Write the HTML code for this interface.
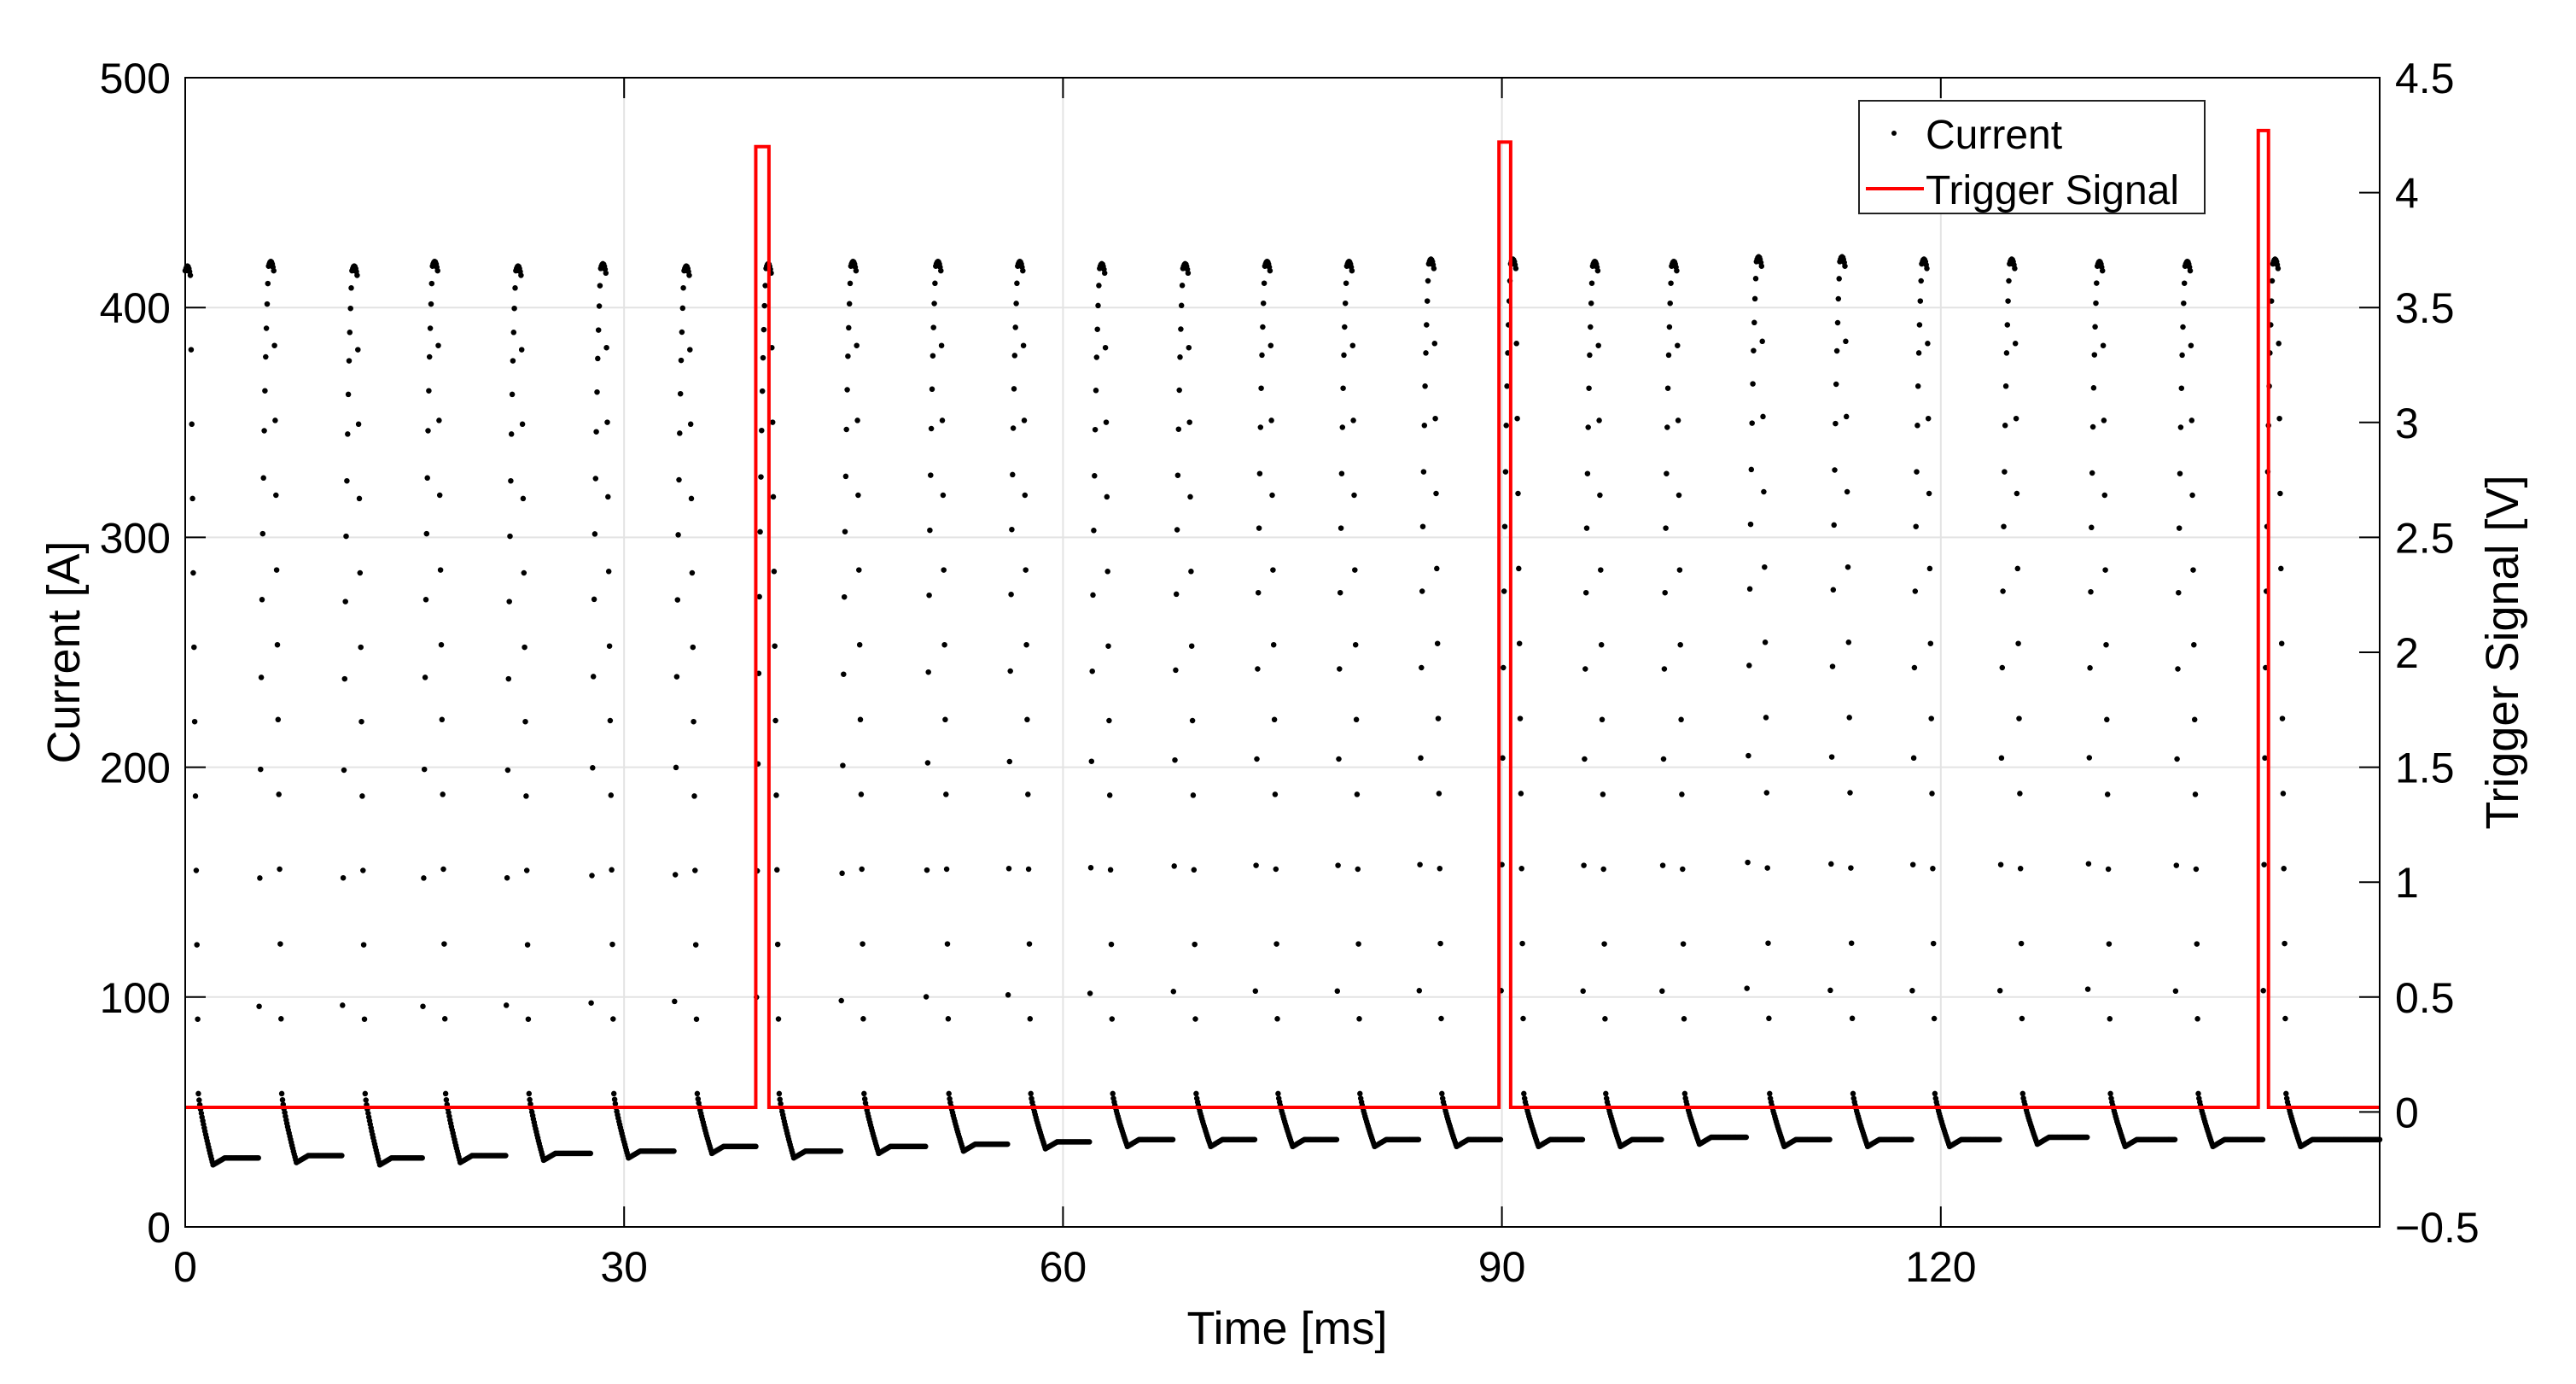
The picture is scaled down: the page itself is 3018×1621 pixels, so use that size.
<!DOCTYPE html>
<html><head><meta charset="utf-8"><style>
html,body{margin:0;padding:0;background:#fff;}
svg{display:block;font-family:"Liberation Sans",Arial,sans-serif;}
</style></head><body>
<svg id="chart" width="3018" height="1621" viewBox="0 0 3018 1621" xmlns="http://www.w3.org/2000/svg">
<rect width="3018" height="1621" fill="#fff"/>
<g id="grid"></g>
<g id="series"></g>
<g id="axes"></g>
<text x="1508" y="1574" font-size="54" text-anchor="middle">Time [ms]</text>
<text transform="translate(93,764) rotate(-90)" font-size="54" text-anchor="middle">Current [A]</text>
<text transform="translate(2950,764) rotate(-90)" font-size="54" text-anchor="middle">Trigger Signal [V]</text>
<g>
<rect x="2178" y="118" width="405" height="132" fill="#fff" stroke="#222" stroke-width="2"/>
<circle cx="2219" cy="156" r="3" fill="#000"/>
<text x="2256" y="174" font-size="48">Current</text>
<line x1="2186" y1="221" x2="2254" y2="221" stroke="#ff0000" stroke-width="4"/>
<text x="2256" y="239" font-size="48">Trigger Signal</text>
</g>
</svg>
<script>
// ---- data ----
const xTicks = [0, 30, 60, 90, 120];
const yTicks = [0, 100, 200, 300, 400, 500];
const y2Ticks = [-0.5, 0, 0.5, 1, 1.5, 2, 2.5, 3, 3.5, 4, 4.5];
const y2TickLabels = ['\u22120.5','0','0.5','1','1.5','2','2.5','3','3.5','4','4.5'];
const pulseStarts = [-0.7, 5.0, 10.7, 16.2, 21.9, 27.7, 33.4, 39.0, 44.8, 50.6, 56.2, 61.8, 67.5, 73.1, 78.7, 84.3, 89.9, 95.5, 100.9, 106.7, 112.4, 118.0, 124.0, 130.0, 136.0, 142.0];
const pulsePeaks = [416, 418, 416, 418, 416, 417, 416, 417, 418, 418, 418, 417, 417, 418, 418, 419, 419, 418, 418, 420, 420, 419, 419, 418, 418, 419];
const pulseBases = [30, 31, 30, 31, 32, 33, 35, 33, 35, 36, 37, 38, 38, 38, 38, 38, 38, 38, 39, 38, 38, 38, 39, 38, 38, 38];
const triggerStarts = [39.0, 89.8, 141.7];
const triggerEnds = [39.9, 90.6, 142.4];
const triggerLevels = [4.2, 4.22, 4.27];
const triggerBaseline = 0.02;

// ---- scales ----
const L = 217, R = 2788, T = 91, B = 1437;
const X0 = 0, X1 = 150;
const xs = v => L + (v - X0) / (X1 - X0) * (R - L);
const ys = v => B - v / 500 * (B - T);
const y2s = v => B - (v + 0.5) / 5 * (B - T);
const NS = 'http://www.w3.org/2000/svg';
function mk(tag, attrs, parent) {
  const e = document.createElementNS(NS, tag);
  for (const k in attrs) e.setAttribute(k, attrs[k]);
  parent.appendChild(e);
  return e;
}
const grid = document.getElementById('grid');
const axes = document.getElementById('axes');
const series = document.getElementById('series');

xTicks.forEach(t => {
  const g = mk('line', {x1: xs(t), x2: xs(t), y1: T, y2: B, stroke: '#e3e3e3', 'stroke-width': 2}, grid);
  
  
  mk('line', {x1: xs(t), x2: xs(t), y1: B, y2: B - 24, stroke: '#000', 'stroke-width': 2}, axes);
  mk('line', {x1: xs(t), x2: xs(t), y1: T, y2: T + 24, stroke: '#000', 'stroke-width': 2}, axes);
  const tx = mk('text', {x: xs(t), y: B + 64, 'font-size': 50, 'text-anchor': 'middle'}, axes);
  
  
  tx.textContent = t;
});
yTicks.forEach(t => {
  const g = mk('line', {x1: L, x2: R, y1: ys(t), y2: ys(t), stroke: '#e3e3e3', 'stroke-width': 2}, grid);
  
  
  mk('line', {x1: L, x2: L + 24, y1: ys(t), y2: ys(t), stroke: '#000', 'stroke-width': 2}, axes);
  const tx = mk('text', {x: 200, y: ys(t) + 18, 'font-size': 50, 'text-anchor': 'end'}, axes);
  
  
  tx.textContent = t;
});
y2Ticks.forEach((t, i) => {
  mk('line', {x1: R, x2: R - 24, y1: y2s(t), y2: y2s(t), stroke: '#000', 'stroke-width': 2}, axes);
  const tx = mk('text', {x: 2806, y: y2s(t) + 18, 'font-size': 50}, axes);
  
  
  tx.textContent = y2TickLabels[i];
});
const frame = mk('rect', {x: L, y: T, width: R - L, height: B - T, fill: 'none', stroke: '#000', 'stroke-width': 2}, axes);



// ---- current waveform shape (from per-pulse parameters) ----
function pulseIndex(t) {
  let i = -1;
  for (let k = 0; k < pulseStarts.length; k++) if (pulseStarts[k] <= t) i = k;
  return i;
}
function currentAt(t) {
  const i = pulseIndex(t);
  if (i < 0) return pulseBases[0];
  const base = pulseBases[i], pk = pulsePeaks[i], d = t - pulseStarts[i];
  const prevBase = i > 0 ? pulseBases[i - 1] : base;
  const RISE = 0.7, tau = 0.3;
  if (d < RISE) return prevBase + (pk - prevBase) * (1 - Math.exp(-d / tau)) / (1 - Math.exp(-RISE / tau));
  if (d < 1.05) return pk + 3 * Math.sin((d - RISE) / 0.35 * Math.PI) - 2 * (d - RISE) / 0.35;
  if (d < 1.6) return (pk - 2) - (pk - 2 - 58) * (d - 1.05) / 0.55;
  if (d < 2.6) return 58 - (58 - (base - 3)) * Math.pow((d - 1.6) / 1.0, 0.8);
  if (d < 3.4) return base - 3 + 3 * (d - 2.6) / 0.8;
  return base;
}
let dpath = '';
for (let n = 0; n <= 3000; n++) {
  const t = n * 0.05;
  dpath += 'M' + xs(t).toFixed(1) + ' ' + ys(currentAt(t)).toFixed(1) + 'h0';
}
const cur = mk('path', {d: dpath, stroke: '#000', 'stroke-width': 6.5, 'stroke-linecap': 'round', fill: 'none'}, series);



// ---- trigger signal ----
let tp = 'M' + xs(0) + ' ' + y2s(triggerBaseline);
triggerStarts.forEach((s, i) => {
  tp += ' L' + xs(s) + ' ' + y2s(triggerBaseline);
  tp += ' L' + xs(s) + ' ' + y2s(triggerLevels[i]);
  tp += ' L' + xs(triggerEnds[i]) + ' ' + y2s(triggerLevels[i]);
  tp += ' L' + xs(triggerEnds[i]) + ' ' + y2s(triggerBaseline);
});
tp += ' L' + xs(150) + ' ' + y2s(triggerBaseline);
const trig = mk('path', {d: tp, stroke: '#ff0000', 'stroke-width': 4, fill: 'none'}, series);


</script>
</body></html>
